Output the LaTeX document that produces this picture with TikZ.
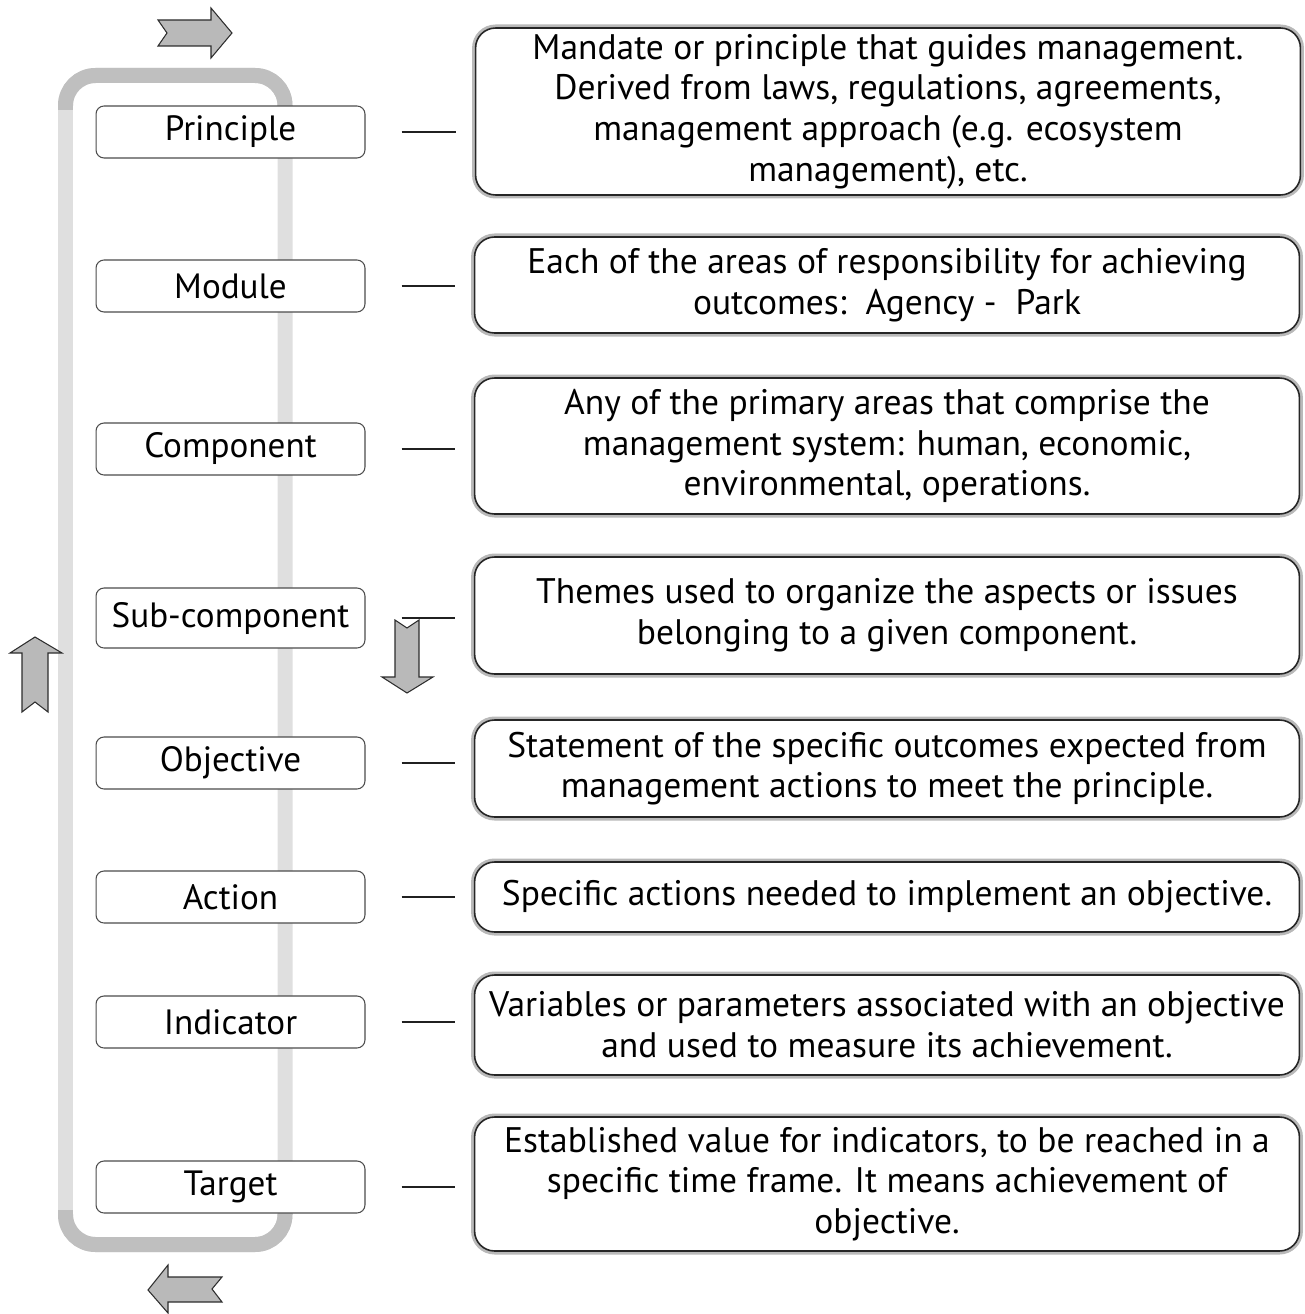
\documentclass[tikz,border=0pt]{standalone}
\usepackage{fontspec}
\setmainfont{PT Sans}
\usetikzlibrary{calc}

\tikzset{
  level/.style={draw=gray!60!black, line width=0.6pt, rounded corners=0.16cm, fill=white,
    minimum width=5.38cm, minimum height=1.04cm, font=\fontsize{20}{22}\selectfont},
  about/.style={draw=black!85, line width=0.9pt, rounded corners=0.4cm, fill=white,
    minimum width=16.5cm, align=center, font=\fontsize{20.2}{23.2}\selectfont,
    preaction={draw=gray!55, line width=4pt}},
  link/.style={draw=gray!25!black, line width=1.2pt, shorten <=0.72cm, shorten >=0.38cm},
  bigarrow/.style={fill=gray!55, draw=gray!35!black, line width=0.6pt, line join=miter},
}

\begin{document}
\begin{tikzpicture}[x=0.02cm, y=-0.02cm]
\useasboundingbox (0,0) rectangle (1304,1314);

% the grey loop behind the levels
\draw[gray!25, line width=0.3cm, rounded corners=0.6cm] (65.5,700) -- (65.5,75.5) -- (285,75.5) -- (285,1244.5) -- (65.5,1244.5) -- cycle;
\draw[gray!50, line width=0.3cm, rounded corners=0.6cm] (65.5,110) -- (65.5,75.5) -- (285,75.5) -- (285,110);
\draw[gray!50, line width=0.3cm, rounded corners=0.6cm] (65.5,1210) -- (65.5,1244.5) -- (285,1244.5) -- (285,1210);

% levels
\node[level] (lprinciple) at (230.5,132) {Principle};
\node[level] (lmodule) at (230.5,286) {Module};
\node[level] (lcomponent) at (230.5,449) {Component};
\node[level, minimum height=1.2cm] (lsub) at (230.5,618) {Sub-component};
\node[level] (lobjective) at (230.5,763) {Objective};
\node[level] (laction) at (230.5,897) {Action};
\node[level] (lindicator) at (230.5,1022) {Indicator};
\node[level] (ltarget) at (230.5,1187) {Target};

% descriptions
\node[about, minimum height=3.34cm] (rprinciple) at (888,111.5) {Mandate or principle that guides management.\\
  Derived from laws, regulations, agreements,\\ management approach (e.g. ecosystem\\ management), etc.};
\node[about, minimum height=1.92cm] (rmodule) at (887,285) {Each of the areas of responsibility for achieving\\
  outcomes:\ \ Agency -\ \ Park};
\node[about, minimum height=2.72cm] (rcomponent) at (887,446) {Any of the primary areas that comprise the\\
  management system: human, economic,\\ environmental, operations.};
\node[about, minimum height=2.34cm] (rsub) at (887,615.5) {Themes used to organize the aspects or issues\\
  belonging to a given component.};
\node[about, minimum height=1.94cm] (robjective) at (887,768.5) {Statement of the specific outcomes expected from\\
  management actions to meet the principle.};
\node[about, minimum height=1.4cm] (raction) at (887,897) {Specific actions needed to implement an objective.};
\node[about, minimum height=2cm] (rindicator) at (887,1025) {Variables or parameters associated with an objective\\
  and used to measure its achievement.};
\node[about, minimum height=2.68cm] (rtarget) at (887,1184) {Established value for indicators, to be reached in a\\
  specific time frame. It means achievement of\\ objective.};

\foreach \n in {principle,module,component,sub,objective,action,indicator,target}
  \draw[link] (l\n.east) -- (l\n.east -| r\n.west);

% block arrows
\draw[bigarrow] (158,20) -- (211,20) -- (211,8) -- (232,33) -- (211,58) -- (211,46) -- (158,46) -- (167,33) -- cycle;
\draw[bigarrow] (35,637) -- (62,653) -- (48,653) -- (48,712) -- (35,702) -- (22,712) -- (22,653) -- (10,653) -- cycle;
\draw[bigarrow] (395,620) -- (407,628) -- (419,620) -- (419,677) -- (433,677) -- (407,693) -- (382,677) -- (395,677) -- cycle;
\draw[bigarrow] (148,1290) -- (168,1265) -- (168,1277) -- (222,1277) -- (212,1289) -- (222,1302) -- (168,1302) -- (168,1313) -- cycle;
\end{tikzpicture}
\end{document}
